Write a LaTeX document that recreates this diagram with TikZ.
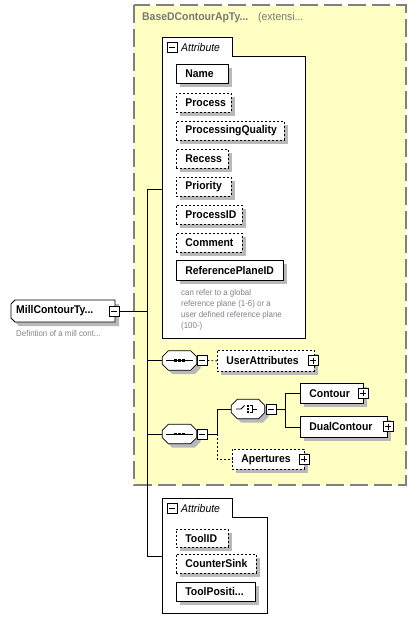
\documentclass[tikz,border=0pt]{standalone}
\usepackage{fontspec}
\setmainfont[FakeStretch=0.93]{Liberation Sans}
\usetikzlibrary{calc}
\definecolor{ybg}{RGB}{255,255,196}
\definecolor{ybd}{RGB}{128,128,128}
\definecolor{shd}{RGB}{185,185,185}
\definecolor{ttl}{RGB}{120,120,120}
\definecolor{dsc}{RGB}{130,130,140}
% element box with shadow: name, x, y, width, height, extra style, text
\newcommand\elembox[7]{%
  \fill[shd] (#2+4,#3+4) rectangle (#2+#4+4,#3+#5+4);
  \pgfmathsetmacro\elemtw{#4-18}%
  \node[elem,#6,minimum height=#5pt,text width=\elemtw pt] (#1) at (#2,#3) {#7};
}
\newcommand\octapath[3]{%
  ([xshift=6pt+#2,yshift=#3]#1.north west) -- ([xshift=-6pt+#2,yshift=#3]#1.north east)
  -- ([xshift=#2,yshift=-6pt+#3]#1.north east) -- ([xshift=#2,yshift=6pt+#3]#1.south east)
  -- ([xshift=-6pt+#2,yshift=#3]#1.south east) -- ([xshift=6pt+#2,yshift=#3]#1.south west)
  -- ([xshift=#2,yshift=6pt+#3]#1.south west) -- ([xshift=#2,yshift=-6pt+#3]#1.north west) -- cycle}
\begin{document}
\begin{tikzpicture}[x=1pt,y=-1pt,
  elem/.style={draw=black, fill=white, line width=0.8pt, inner ysep=0pt, inner xsep=9pt,
    anchor=north west, align=left, font=\fontsize{11.2}{13}\selectfont\bfseries},
  opt/.style={dash pattern=on 2pt off 2pt},
  conn/.style={draw=black, line width=0.8pt},
  pmbox/.style={draw=black, fill=white, line width=0.7pt, minimum size=10pt, inner sep=0pt},
  minusbox/.style={pmbox, path picture={\draw[line width=0.8pt] ([xshift=2pt]path picture bounding box.west) -- ([xshift=-2pt]path picture bounding box.east);}},
  plusbox/.style={pmbox, path picture={\draw[line width=0.8pt] ([xshift=2pt]path picture bounding box.west) -- ([xshift=-2pt]path picture bounding box.east);
      \draw[line width=0.8pt] ([yshift=-2pt]path picture bounding box.north) -- ([yshift=2pt]path picture bounding box.south);}},
  comp/.style={minimum width=34pt, minimum height=19pt, inner sep=0pt},
  octa/.style={draw=black, fill=white, line width=0.8pt},
  dtext/.style={anchor=west, text=dsc, font=\fontsize{8.5}{10}\selectfont, inner sep=0pt}
]
\useasboundingbox (0,0) rectangle (416,631);

% yellow extension box
\path[fill=ybg, draw=ybd, line width=1.4pt, dash pattern=on 18pt off 6pt] (134,5) rectangle (406,485);
\node[anchor=west, inner sep=0pt, text=ttl, font=\fontsize{11.2}{13}\selectfont\bfseries] (ttl) at (142,18) {BaseDContourApTy...};
\node[anchor=west, inner sep=0pt, text=ttl, font=\fontsize{11.2}{13}\selectfont] (ext) at (258,18) {(extensi...};

% attribute group 1
\path[draw=black, fill=white, line width=0.8pt] (162,338) -- (162,37) -- (232,37) -- (232,56) -- (305,56) -- (305,338) -- cycle;
\node[minusbox] (a1m) at (172,47) {};
\node[anchor=west, inner sep=0pt, font=\fontsize{11.2}{13}\selectfont\itshape] (a1t) at (181,47) {Attribute};
\coordinate (a1in) at (162,189);

\elembox{name}{176}{64}{52}{19}{}{Name}
\elembox{process}{176}{93}{55}{19}{opt}{Process}
\elembox{pq}{176}{121}{108}{19}{opt}{ProcessingQuality}
\elembox{recess}{176}{149}{52}{19}{opt}{Recess}
\elembox{prio}{176}{177}{55}{19}{opt}{Priority}
\elembox{pid}{176}{205}{66}{19}{opt}{ProcessID}
\elembox{comment}{176}{233}{66}{19}{opt}{Comment}
\elembox{refp}{176}{260}{107}{20}{}{ReferencePlaneID}
\node[dtext] (d1) at (181,293) {can refer to a global};
\node[dtext] (d2) at (181,304) {reference plane (1-6) or a};
\node[dtext] (d3) at (181,315) {user defined reference plane};
\node[dtext] (d4) at (181,326) {(100-)};

% root element
\fill[shd] (19,304) -- (119,304) -- (119,326) -- (19,326) -- (15,322) -- (15,308) -- cycle;
\path[draw=black, fill=white, line width=0.8pt] (15,300) -- (115,300) -- (115,322) -- (15,322) -- (11,318) -- (11,304) -- cycle;
\node[anchor=west, inner sep=0pt, font=\fontsize{11.2}{13}\selectfont\bfseries] (mill) at (16,311) {MillContourTy...};
\node[minusbox] (millm) at (114,311) {};
\node[dtext] (milld) at (16,333) {Defintion of a mill cont...};

% compositors
\node[comp] (seq1) at (179.5,360.5) {};
\node[comp] (seq2) at (179.5,434) {};
\node[comp, minimum width=33pt] (choice) at (248,409) {};
\foreach \n in {seq1,seq2,choice}{
  \fill[shd] \octapath{\n}{4pt}{-4pt};
  \path[octa] \octapath{\n}{0pt}{0pt};
}
\foreach \n in {seq1,seq2}{
  \draw[line width=0.8pt] ([xshift=4pt]\n.west) -- ([xshift=-4pt]\n.east);
  \begin{scope}[shift={(\n.center)}]
    \fill (-5.2,-1.4) rectangle (-2.4,1.4);
    \fill (-1.4,-1.4) rectangle (1.4,1.4);
    \fill (2.4,-1.4) rectangle (5.2,1.4);
  \end{scope}
}
\begin{scope}[shift={(choice.center)}]
  \draw[line width=0.8pt] (-12,0) -- (-7,0) -- (-3.5,-3.5);
  \fill (-1.5,-4.3) rectangle (0.8,-2.3);
  \fill (-1.5,-1.1) rectangle (0.8,1.1);
  \fill (-1.5,2.3) rectangle (0.8,4.3);
  \draw[line width=0.8pt] (1.8,-3.3) -- (4.5,-3.3) -- (4.5,3.3) -- (1.8,3.3);
  \draw[line width=0.8pt] (4.5,0) -- (8.5,0);
\end{scope}
\node[minusbox] (seq1m) at (202,360.5) {};
\node[minusbox] (seq2m) at (202,434) {};
\node[minusbox] (choicem) at (271,409) {};

% child elements
\elembox{ua}{217}{350}{97}{21}{opt}{UserAttributes}
\node[plusbox] (uap) at (313,360.5) {};
\elembox{contour}{300}{383}{63}{20}{}{Contour}
\node[plusbox] (contourp) at (363,393) {};
\elembox{dual}{300}{416}{87}{21}{}{DualContour}
\node[plusbox] (dualp) at (388,426.5) {};
\elembox{ap}{232}{449}{72}{20}{opt}{Apertures}
\node[plusbox] (app) at (304,459) {};

% attribute group 2
\path[draw=black, fill=white, line width=0.8pt] (162,613) -- (162,498) -- (232,498) -- (232,517) -- (267,517) -- (267,613) -- cycle;
\node[minusbox] (a2m) at (172,508) {};
\node[anchor=west, inner sep=0pt, font=\fontsize{11.2}{13}\selectfont\itshape] (a2t) at (181,508) {Attribute};
\coordinate (a2in) at (162,556);
\elembox{toolid}{176}{529}{52}{18}{opt}{ToolID}
\elembox{csink}{176}{554}{80}{19}{opt}{CounterSink}
\elembox{toolpos}{176}{582}{79}{19}{}{ToolPositi...}

% connectors
\coordinate (tr1) at (147,189);
\coordinate (tr2) at (147,556);
\draw[conn] (tr1) -- (tr2);
\draw[conn] (tr1) -- (a1in);
\draw[conn] (tr2) -- (a2in);
\draw[conn] (millm.east) -- (millm.east -| tr1);
\draw[conn] (seq1.west -| tr1) -- (seq1.west);
\draw[conn] (seq2.west -| tr1) -- (seq2.west);
\draw[conn, opt] (seq1m.east) -- (ua.west);
\coordinate (br) at (217,434);
\draw[conn] (seq2m.east) -- (br) |- (choice.west);
\draw[conn, opt] (br) |- (ap.west);
\coordinate (br2) at (285,409);
\draw[conn] (choicem.east) -- (br2);
\draw[conn] (br2 |- contour.west) -- (br2 |- dual.west);
\draw[conn] (br2 |- contour.west) -- (contour.west);
\draw[conn] (br2 |- dual.west) -- (dual.west);
\end{tikzpicture}
\end{document}
